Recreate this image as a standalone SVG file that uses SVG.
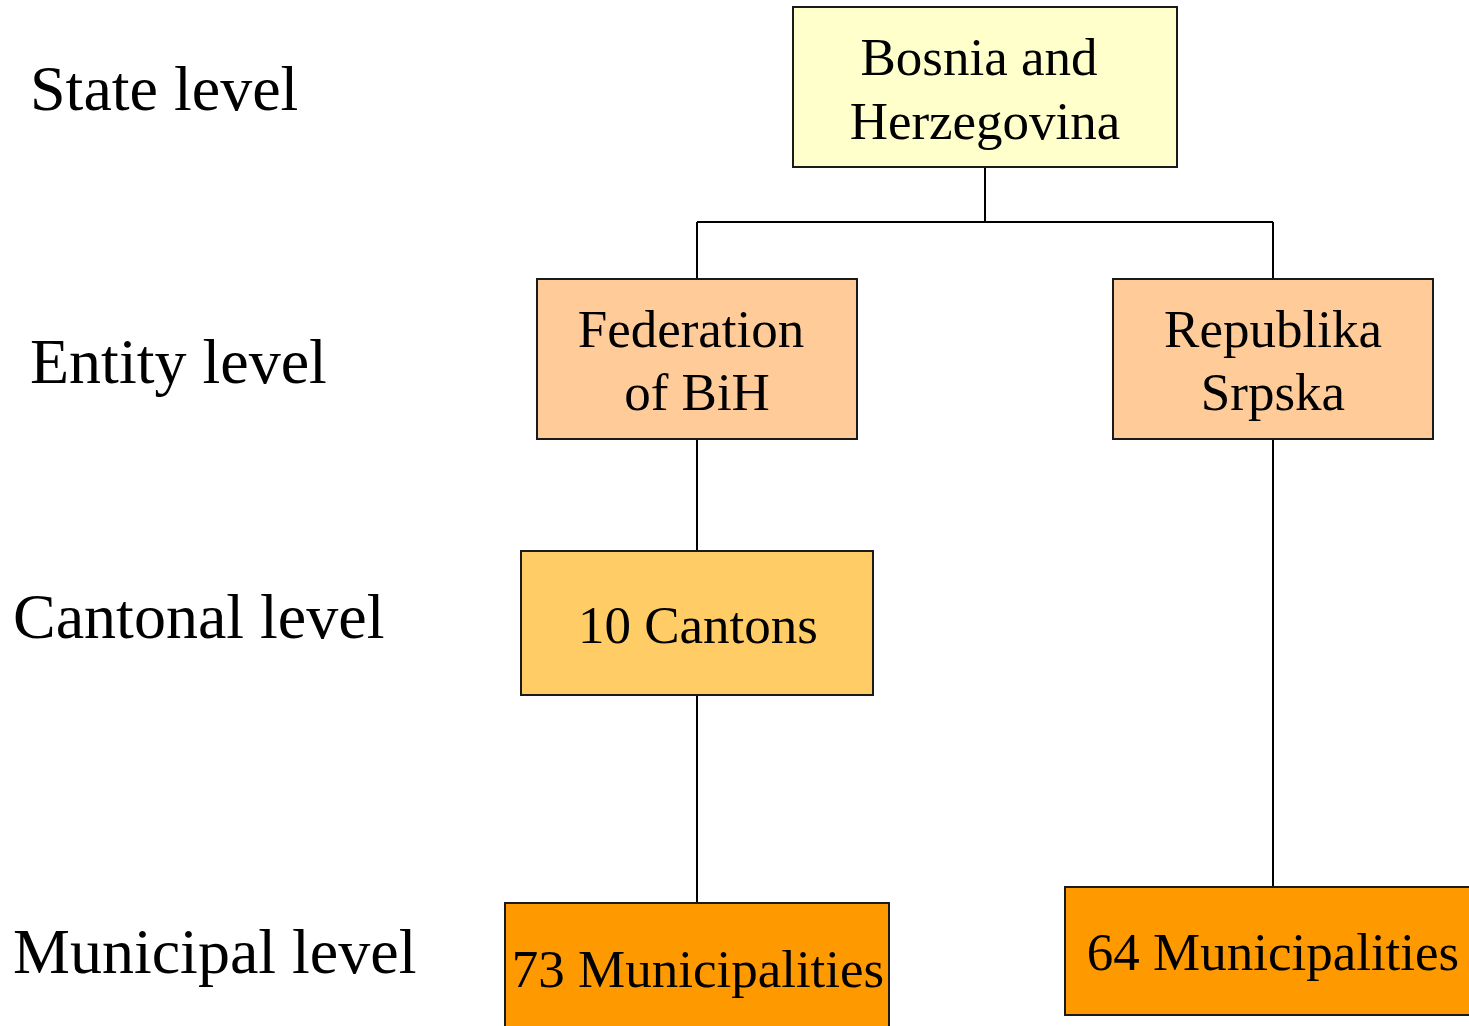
<svg xmlns="http://www.w3.org/2000/svg" width="1469" height="1026" viewBox="0 0 1469 1026">
  <style>
    .box { stroke: #1a1a1a; stroke-width: 2; }
    .lbl { font-family: "Liberation Serif", "Times New Roman", serif; font-size: 64px; fill: #000; }
    .txt { font-family: "Liberation Serif", "Times New Roman", serif; font-size: 53px; fill: #000; text-anchor: middle; }
    .wire { stroke: #000; stroke-width: 2; fill: none; }
  </style>
  <rect width="1469" height="1026" fill="#fff"/>

  <!-- level labels -->
  <g id="level-labels">
    <text class="lbl" x="30" y="110">State level</text>
    <text class="lbl" x="30" y="383">Entity level</text>
    <text class="lbl" x="13" y="638">Cantonal level</text>
    <text class="lbl" x="13" y="973">Municipal level</text>
  </g>

  <!-- connectors -->
  <g id="connectors">
    <path class="wire" d="M985,167 V222 M697,222 H1273 M697,222 V279 M1273,222 V279"/>
    <path class="wire" d="M697,439 V551"/>
    <path class="wire" d="M697,695 V903"/>
    <path class="wire" d="M1273,439 V887"/>
  </g>

  <g id="bih">
    <rect class="box" x="793" y="7" width="384" height="160" fill="#FFFFCC"/>
    <text class="txt" x="979" y="75">Bosnia and</text>
    <text class="txt" x="985" y="139">Herzegovina</text>
  </g>

  <g id="fbih">
    <rect class="box" x="537" y="279" width="320" height="160" fill="#FFCC99"/>
    <text class="txt" x="691" y="347">Federation</text>
    <text class="txt" x="697" y="410">of BiH</text>
  </g>

  <g id="rs">
    <rect class="box" x="1113" y="279" width="320" height="160" fill="#FFCC99"/>
    <text class="txt" x="1273" y="347">Republika</text>
    <text class="txt" x="1273" y="410">Srpska</text>
  </g>

  <g id="cantons">
    <rect class="box" x="521" y="551" width="352" height="144" fill="#FFCC66"/>
    <text class="txt" x="698" y="643">10 Cantons</text>
  </g>

  <g id="fbih-municipalities">
    <rect class="box" x="505" y="903" width="384" height="130" fill="#FF9900"/>
    <text class="txt" x="698" y="987">73 Municipalities</text>
  </g>

  <g id="rs-municipalities">
    <rect class="box" x="1065" y="887" width="414" height="128" fill="#FF9900"/>
    <text class="txt" x="1273" y="970">64 Municipalities</text>
  </g>
</svg>
